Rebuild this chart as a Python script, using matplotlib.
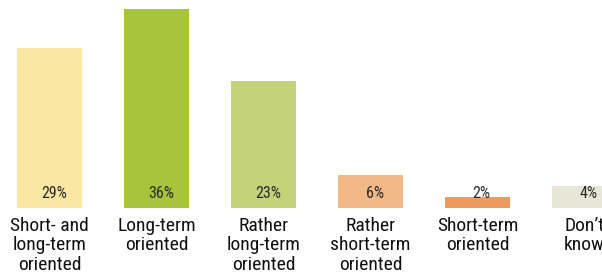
import matplotlib
matplotlib.use("Agg")
import matplotlib.pyplot as plt

categories = ["Short- and\nlong-term\noriented", "Long-term\noriented", "Rather\nlong-term\noriented",
              "Rather\nshort-term\noriented", "Short-term\noriented", "Don\u2019t\nknow"]
values = [29, 36, 23, 6, 2, 4]
labels = ["29%", "36%", "23%", "6%", "2%", "4%"]
colors = ["#F9E7A3", "#A8C43A", "#C4D278", "#F1B888", "#EB9B5E", "#E8E6D6"]

plt.rcParams['font.family'] = ['Roboto Condensed', 'DejaVu Sans']

fig = plt.figure(figsize=(6.02, 2.73), dpi=100)
ax = fig.add_axes([0, 65/273, 1, 208/273])
x = list(range(len(values)))
ax.bar(x, values, width=0.6, color=colors)
ax.set_xlim(-49.5/107, (602-49.5)/107)
ax.set_ylim(0, 208/5.52)
ax.axis('off')

for xi, lab in zip(x, labels):
    ax.text(xi + 0.04, 2.6, lab, ha='center', va='center', fontsize=11.5, color='#2a2a2a')
for xi, cat in zip(x, categories):
    ax.text(xi, -1.6, cat, ha='center', va='top', fontsize=14, color='#111111',
            linespacing=1.1, clip_on=False)

fig.savefig("out.png", dpi=100)
